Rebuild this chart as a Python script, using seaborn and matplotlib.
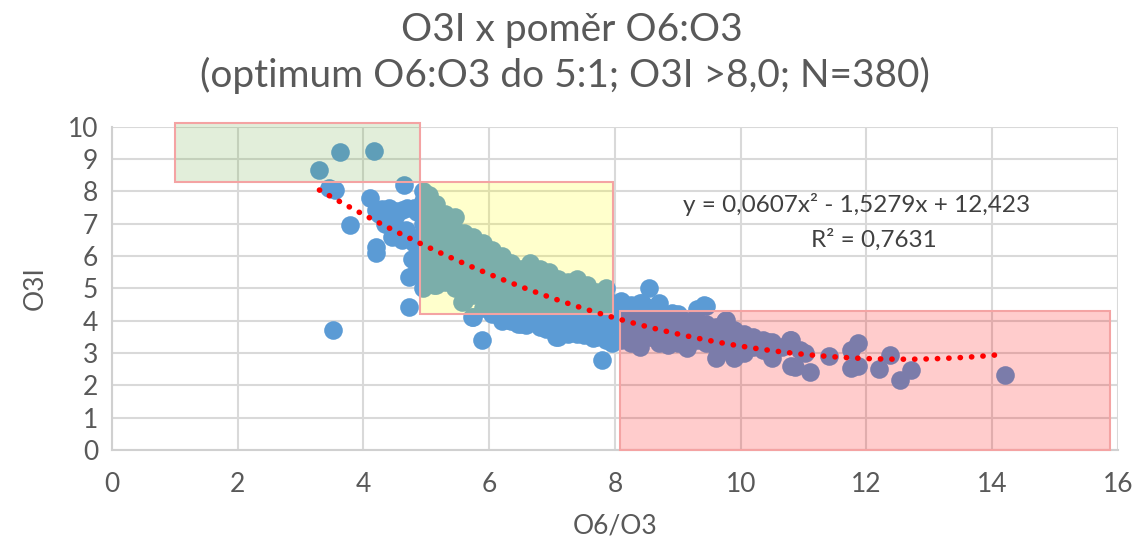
import numpy as np
import pandas as pd
import seaborn as sns
import matplotlib.pyplot as plt
from matplotlib.patches import Rectangle

# scatter points (O6/O3, O3I)
x_left = [3.30, 3.62, 4.17, 3.46, 3.55, 4.65, 3.78, 4.10, 4.20, 4.30, 4.41, 4.50, 4.62, 4.70, 4.81,
          4.85, 4.25, 4.50, 4.20, 4.20, 4.45, 4.57, 4.68, 4.62, 4.81, 4.86, 4.78, 4.73, 4.85, 4.73,
          3.51, 4.45, 4.35, 4.75]
y_left = [8.67, 9.23, 9.26, 8.11, 8.05, 8.20, 6.96, 7.80, 7.43, 7.45, 7.49, 7.40, 7.43, 7.50, 7.49,
          7.35, 7.30, 7.20, 6.28, 6.10, 6.60, 6.72, 6.81, 6.50, 6.40, 6.10, 5.90, 5.36, 5.60, 4.43,
          3.72, 6.90, 7.00, 6.60]

x_mid = [4.95] * 9 + [5.05] * 8 + [5.15] * 8 + [5.30] * 7 + [5.45] * 7 + [5.60] * 7 + [5.75] * 7 \
        + [5.90] * 7 + [6.05] * 7 + [6.20] * 7 + [6.35] * 7 + [6.50] * 7 + [6.65] * 7 + [6.80] * 7 \
        + [6.95] * 7 + [7.10] * 7 + [7.25] * 7 + [7.40] * 7 + [7.55] * 6 + [7.70] * 6 + [7.85] * 6 \
        + [7.80, 5.89, 5.56, 5.73, 6.32, 6.59, 7.06, 7.27, 7.95, 5.13, 6.45, 6.9, 7.5, 7.65]
y_mid = [8.0, 7.7, 7.3, 7.0, 6.6, 6.2, 5.8, 5.4, 5.0,
         7.9, 7.5, 7.1, 6.7, 6.4, 6.0, 5.6, 5.2,
         7.6, 7.2, 6.9, 6.5, 6.1, 5.7, 5.3, 5.1,
         7.3, 7.0, 6.6, 6.3, 5.9, 5.5, 5.2,
         7.2, 6.8, 6.5, 6.1, 5.8, 5.4, 5.0,
         6.7, 6.4, 6.0, 5.7, 5.3, 5.0, 4.6,
         6.6, 6.3, 5.9, 5.5, 5.1, 4.8, 4.1,
         6.4, 6.1, 5.8, 5.4, 5.0, 4.7, 4.4,
         6.2, 5.9, 5.6, 5.3, 4.9, 4.5, 4.2,
         6.0, 5.7, 5.4, 5.0, 4.7, 4.3, 4.0,
         5.8, 5.5, 5.2, 4.9, 4.5, 4.2, 4.0,
         5.6, 5.4, 5.1, 4.8, 4.4, 4.1, 3.9,
         5.8, 5.5, 5.2, 4.9, 4.6, 4.3, 4.0,
         5.6, 5.3, 5.0, 4.7, 4.4, 4.1, 3.8,
         5.5, 5.2, 4.9, 4.6, 4.3, 4.0, 3.8,
         5.3, 5.0, 4.7, 4.4, 4.1, 3.8, 3.5,
         5.2, 4.9, 4.6, 4.3, 4.0, 3.7, 3.6,
         5.3, 5.0, 4.7, 4.4, 4.1, 3.9, 3.6,
         5.1, 4.8, 4.5, 4.2, 3.9, 3.7,
         4.9, 4.6, 4.3, 4.0, 3.8, 3.5,
         5.0, 4.7, 4.4, 4.1, 3.8, 3.4,
         2.79, 3.40, 4.58, 4.12, 4.02, 3.87, 3.50, 3.62, 3.31, 5.10, 3.9, 3.75, 3.55, 3.45]

x_right = [8.10] * 5 + [8.25] * 5 + [8.40] * 5 + [8.55] * 4 + [8.70] * 5 + [8.85] * 4 + [9.00] * 4 \
          + [9.15] * 4 + [9.30] * 4 + [9.45] * 4 + [9.60] * 4 + [9.75] * 4 + [9.90] * 3 + [10.05] * 3 \
          + [10.20] * 2 + [10.35] * 2 + [10.50] * 2 + [10.65, 10.80, 10.80, 10.95, 11.10, 11.40,
                                                      11.75, 11.75, 11.87, 11.87, 12.20, 12.38,
                                                      12.54, 12.71, 14.20, 8.54, 8.43, 8.90, 9.41,
                                                      9.76, 10.13, 10.44, 10.79, 11.03, 10.87]
y_right = [4.6, 4.3, 4.0, 3.7, 3.4,
           4.5, 4.2, 3.9, 3.6, 3.3,
           4.55, 4.1, 3.8, 3.5, 3.2,
           4.4, 4.1, 3.8, 3.5,
           4.55, 4.2, 3.9, 3.6, 3.3,
           4.1, 3.8, 3.5, 3.25,
           4.2, 3.9, 3.6, 3.3,
           4.0, 3.7, 3.4, 3.15,
           4.35, 4.0, 3.7, 3.4,
           4.45, 3.9, 3.6, 3.3,
           3.8, 3.5, 3.2, 2.85,
           4.0, 3.7, 3.4, 3.1,
           3.7, 3.4, 2.85,
           3.6, 3.3, 3.0,
           3.5, 3.2,
           3.4, 3.1,
           3.35, 2.85,
           3.2, 3.4, 2.6, 3.1, 2.4, 2.9,
           2.55, 3.1, 3.3, 2.6, 2.5, 2.95,
           2.17, 2.48, 2.32, 5.0, 4.55, 4.24, 4.49,
           4.02, 3.41, 3.34, 3.41, 3.0, 2.58]

# polynomial trendline shown on the chart
trend_coef = [0.0607, -1.5279, 12.423]
trend_range = [3.3, 14.1]

# highlighted zones: (x0, x1, y0, y1, colour)
zones = [(1.0, 4.9, 8.3, 10.12, '#70ad47'),
         (4.9, 7.97, 4.2, 8.3, '#ffff00'),
         (8.08, 15.87, 0.0, 4.3, '#ff0000')]

df = pd.DataFrame({'O6/O3': x_left + x_mid + x_right, 'O3I': y_left + y_mid + y_right})

sns.set_theme(style='whitegrid')
plt.rcParams['font.family'] = ['Lato', 'DejaVu Sans']

fig = plt.figure(figsize=(11.42, 5.37), dpi=100)
ax = fig.add_axes([0.098, 0.162, 0.881, 0.602])

sns.scatterplot(data=df, x='O6/O3', y='O3I', color='#5b9bd5', s=180, linewidth=0,
                ax=ax, zorder=2)

for x0, x1, y0, y1, c in zones:
    ax.add_patch(Rectangle((x0, y0), x1 - x0, y1 - y0, facecolor=c, alpha=0.2,
                           edgecolor='none', zorder=3, clip_on=False))
    ax.add_patch(Rectangle((x0, y0), x1 - x0, y1 - y0, facecolor='none',
                           edgecolor='#f4a3a3', linewidth=1.5, zorder=3, clip_on=False))

xt = np.linspace(trend_range[0], trend_range[1], 200)
ax.plot(xt, np.polyval(trend_coef, xt), color='#ff0000', linewidth=4,
        linestyle=(0, (0.05, 2.0)), dash_capstyle='round', zorder=4)

ax.set_xlim(0, 16)
ax.set_ylim(0, 10)
ax.set_xticks(range(0, 17, 2))
ax.set_yticks(range(0, 11))
ax.grid(True, color='#d9d9d9', linewidth=1.5)
for s in ['top', 'right']:
    ax.spines[s].set_visible(False)
for s in ['left', 'bottom']:
    ax.spines[s].set_color('#d0d0d0')
    ax.spines[s].set_linewidth(1.5)
ax.tick_params(colors='#595959', labelsize=19, length=0)
ax.tick_params(axis='x', pad=16)
ax.tick_params(axis='y', pad=10)
ax.set_xlabel('O6/O3', fontsize=19, color='#595959', labelpad=12)
ax.set_ylabel('O3I', fontsize=19, color='#595959', labelpad=14)

ax.text(11.84, 7.59, 'y = 0,0607x² - 1,5279x + 12,423', fontsize=17.5, color='#404040',
        ha='center', va='center', zorder=5)
ax.text(12.11, 6.5, 'R² = 0,7631', fontsize=17.5, color='#404040',
        ha='center', va='center', zorder=5)

fig.text(0.501, 0.945, 'O3I x poměr O6:O3', fontsize=28, color='#595959',
         ha='center', va='center')
fig.text(0.495, 0.86, '(optimum O6:O3 do 5:1; O3I >8,0; N=380)', fontsize=28,
         color='#595959', ha='center', va='center')

fig.savefig('out.png', dpi=100)
